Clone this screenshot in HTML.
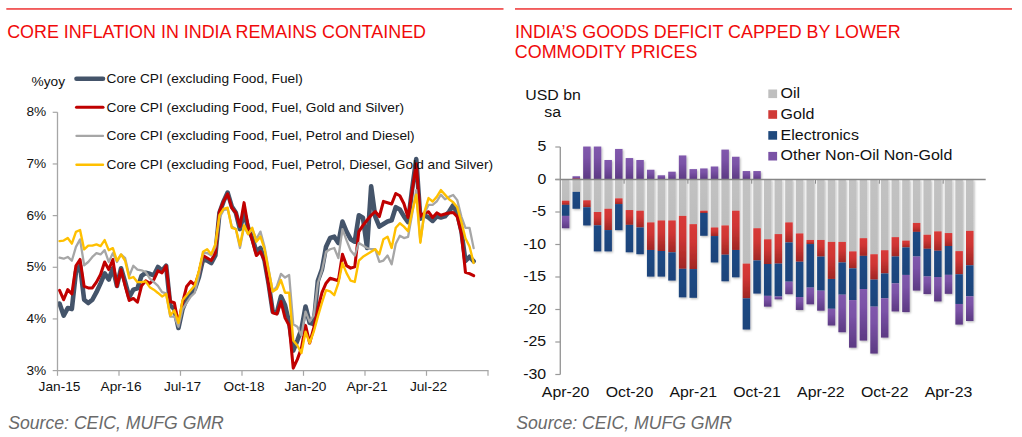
<!DOCTYPE html>
<html><head><meta charset="utf-8"><title>charts</title>
<style>
html,body{margin:0;padding:0;background:#fff;}
body{width:1022px;height:437px;overflow:hidden;position:relative;font-family:"Liberation Sans",sans-serif;}
svg{position:absolute;left:0;top:0;}
text{font-family:"Liberation Sans",sans-serif;}
</style></head><body>
<svg width="1022" height="437" viewBox="0 0 1022 437">
<defs>
<linearGradient id="gP" x1="0" y1="0" x2="0" y2="1"><stop offset="0" stop-color="#8159ad"/><stop offset="0.35" stop-color="#7a52a6"/><stop offset="1" stop-color="#5c3a83"/></linearGradient>
<linearGradient id="gR" x1="0" y1="0" x2="0" y2="1"><stop offset="0" stop-color="#d93a38"/><stop offset="0.4" stop-color="#cf3634"/><stop offset="1" stop-color="#a02724"/></linearGradient>
<linearGradient id="gN" x1="0" y1="0" x2="0" y2="1"><stop offset="0" stop-color="#1f4a85"/><stop offset="1" stop-color="#1c437a"/></linearGradient>
<linearGradient id="gG" x1="0" y1="0" x2="0" y2="1"><stop offset="0" stop-color="#c2c2c2"/><stop offset="1" stop-color="#bdbdbd"/></linearGradient>
<filter id="sh" x="-2%" y="-2%" width="104%" height="106%"><feDropShadow dx="0.9" dy="1.1" stdDeviation="0.95" flood-color="#000" flood-opacity="0.3"/></filter>
</defs>

<rect x="6.3" y="8.2" width="497.2" height="1.5" fill="#ee3333"/>
<rect x="515" y="8.2" width="497" height="1.5" fill="#ee3333"/>
<text x="7.2" y="37.9" font-size="17.9" fill="#f00a0a">CORE INFLATION IN INDIA REMAINS CONTAINED</text>
<text x="515" y="37.7" font-size="17.9" fill="#f00a0a">INDIA’S GOODS DEFICIT CAPPED BY LOWER</text>
<text x="514.8" y="57.6" font-size="17.9" fill="#f00a0a">COMMODITY PRICES</text>
<text x="8.2" y="428.6" font-size="17.65" font-style="italic" fill="#6a6a6a">Source: CEIC, MUFG GMR</text>
<text x="516.3" y="428.6" font-size="17.65" font-style="italic" fill="#6a6a6a">Source: CEIC, MUFG GMR</text>
<path d="M59.55,303.51 L63.65,315.59 L67.75,308.04 L71.85,309.05 L75.95,272.05 L80.05,265.75 L84.15,299.73 L88.25,303.01 L92.35,299.73 L96.45,292.18 L100.55,283.37 L104.65,273.31 L108.75,279.60 L112.85,268.27 L116.95,285.89 L121.05,268.27 L125.15,282.12 L129.25,297.22 L133.35,289.67 L137.45,288.41 L141.55,275.82 L145.65,272.80 L149.75,273.81 L153.85,275.32 L157.95,267.01 L162.05,270.79 L166.15,265.75 L170.25,305.34 L174.35,309.12 L178.45,327.99 L182.55,309.12 L186.65,299.05 L190.75,292.75 L194.85,288.98 L198.95,276.90 L203.05,259.29 L207.15,260.54 L211.25,263.06 L215.35,255.51 L219.45,212.72 L223.55,201.39 L227.65,192.58 L231.75,206.43 L235.85,212.72 L239.95,229.08 L244.05,212.72 L248.15,227.82 L252.25,237.89 L256.35,251.73 L260.45,247.96 L264.55,260.54 L268.65,283.88 L272.75,311.56 L276.85,312.82 L280.95,296.46 L285.05,305.27 L289.15,322.89 L293.25,350.58 L297.35,340.51 L301.45,329.18 L305.55,306.53 L309.65,322.89 L313.75,324.15 L317.85,280.71 L321.95,269.39 L326.05,246.73 L330.15,237.92 L334.25,236.67 L338.35,242.96 L342.45,221.56 L346.55,231.63 L350.65,239.18 L354.75,241.70 L358.85,215.27 L362.95,217.79 L367.05,247.99 L371.15,186.33 L375.25,216.53 L379.35,226.60 L383.45,224.08 L387.55,221.56 L391.65,220.31 L395.75,207.21 L399.85,209.50 L403.95,216.36 L408.05,222.08 L412.15,188.90 L416.25,159.15 L420.35,218.65 L424.45,215.22 L428.55,217.51 L432.65,220.94 L436.75,216.36 L440.85,217.51 L444.95,216.36 L449.05,211.78 L453.15,205.30 L457.25,213.53 L461.35,231.04 L465.45,260.90 L469.55,256.78 L473.65,261.31" fill="none" stroke="#44546a" stroke-width="4.6" stroke-linejoin="round" stroke-linecap="round"/>
<path d="M59.55,290.42 L63.65,299.73 L67.75,289.67 L71.85,293.95 L75.95,265.75 L80.05,259.46 L84.15,286.39 L88.25,287.90 L92.35,287.90 L96.45,282.12 L100.55,274.56 L104.65,261.98 L108.75,269.53 L112.85,259.46 L116.95,286.39 L121.05,269.53 L125.15,285.89 L129.25,300.49 L133.35,298.48 L137.45,302.25 L141.55,285.89 L145.65,280.86 L149.75,283.37 L153.85,279.60 L157.95,270.79 L162.05,272.80 L166.15,265.75 L170.25,301.56 L174.35,302.82 L178.45,324.22 L182.55,302.82 L186.65,286.46 L190.75,281.43 L194.85,285.20 L198.95,273.13 L203.05,255.51 L207.15,258.03 L211.25,260.54 L215.35,252.99 L219.45,211.46 L223.55,201.39 L227.65,193.84 L231.75,207.69 L235.85,212.72 L239.95,226.56 L244.05,202.65 L248.15,226.56 L252.25,240.41 L256.35,255.51 L260.45,251.73 L264.55,260.54 L268.65,285.14 L272.75,312.82 L276.85,314.08 L280.95,301.50 L285.05,317.86 L289.15,325.41 L293.25,368.20 L297.35,359.39 L301.45,348.06 L305.55,325.41 L309.65,343.03 L313.75,327.92 L317.85,309.05 L321.95,292.69 L326.05,283.23 L330.15,278.20 L334.25,279.46 L338.35,280.71 L342.45,254.29 L346.55,265.61 L350.65,268.13 L354.75,266.87 L358.85,231.63 L362.95,225.34 L367.05,220.31 L371.15,215.27 L375.25,211.50 L379.35,216.53 L383.45,201.43 L387.55,202.69 L391.65,203.95 L395.75,193.48 L399.85,195.77 L403.95,203.78 L408.05,217.51 L412.15,191.19 L416.25,163.73 L420.35,216.36 L424.45,212.93 L428.55,211.78 L432.65,217.51 L436.75,212.93 L440.85,215.22 L444.95,214.07 L449.05,212.93 L453.15,212.50 L457.25,216.62 L461.35,233.10 L465.45,272.22 L469.55,273.67 L473.65,275.72" fill="none" stroke="#c00000" stroke-width="3.05" stroke-linejoin="round" stroke-linecap="round"/>
<path d="M59.55,257.70 L63.65,258.71 L67.75,256.95 L71.85,260.72 L75.95,246.88 L80.05,239.33 L84.15,265.25 L88.25,261.98 L92.35,256.95 L96.45,253.17 L100.55,254.43 L104.65,250.15 L108.75,261.98 L112.85,253.17 L116.95,261.98 L121.05,254.43 L125.15,258.20 L129.25,275.82 L133.35,265.75 L137.45,269.53 L141.55,270.29 L145.65,272.05 L149.75,278.34 L153.85,282.12 L157.95,285.89 L162.05,292.18 L166.15,293.44 L170.25,316.67 L174.35,316.67 L178.45,326.73 L182.55,309.12 L186.65,302.82 L190.75,296.53 L194.85,292.75 L198.95,275.14 L203.05,252.99 L207.15,252.99 L211.25,255.51 L215.35,246.70 L219.45,217.75 L223.55,210.20 L227.65,208.95 L231.75,226.56 L235.85,229.08 L239.95,247.96 L244.05,226.56 L248.15,234.12 L252.25,229.08 L256.35,239.15 L260.45,231.60 L264.55,246.70 L268.65,269.35 L272.75,291.43 L276.85,286.39 L280.95,273.81 L285.05,277.58 L289.15,275.07 L293.25,324.15 L297.35,326.67 L301.45,335.48 L305.55,311.56 L309.65,321.63 L313.75,315.34 L317.85,283.23 L321.95,270.65 L326.05,251.77 L330.15,249.25 L334.25,247.99 L338.35,258.06 L342.45,229.12 L346.55,240.44 L350.65,250.51 L354.75,255.54 L358.85,242.96 L362.95,245.48 L367.05,247.99 L371.15,249.25 L375.25,249.25 L379.35,261.84 L383.45,260.58 L387.55,255.54 L391.65,264.35 L395.75,243.82 L399.85,235.81 L403.95,238.10 L408.05,236.96 L412.15,214.07 L416.25,190.05 L420.35,241.53 L424.45,212.93 L428.55,204.92 L432.65,204.92 L436.75,201.49 L440.85,194.62 L444.95,199.20 L449.05,196.91 L453.15,195.00 L457.25,200.15 L461.35,216.62 L465.45,227.95 L469.55,227.95 L473.65,248.13" fill="none" stroke="#a6a6a6" stroke-width="2.3" stroke-linejoin="round" stroke-linecap="round"/>
<path d="M59.55,241.09 L63.65,240.58 L67.75,238.07 L71.85,243.61 L75.95,231.78 L80.05,230.01 L84.15,249.39 L88.25,245.62 L92.35,245.62 L96.45,244.36 L100.55,246.12 L104.65,240.08 L108.75,250.15 L112.85,248.14 L116.95,260.72 L121.05,254.43 L125.15,260.72 L129.25,278.34 L133.35,277.08 L137.45,282.12 L141.55,282.12 L145.65,281.36 L149.75,287.15 L153.85,289.67 L157.95,292.94 L162.05,296.46 L166.15,293.95 L170.25,315.41 L174.35,310.37 L178.45,322.96 L182.55,300.31 L186.65,295.27 L190.75,290.24 L194.85,285.20 L198.95,270.61 L203.05,251.73 L207.15,249.22 L211.25,254.25 L215.35,244.18 L219.45,215.24 L223.55,208.95 L227.65,207.69 L231.75,227.82 L235.85,229.08 L239.95,245.44 L244.05,225.31 L248.15,234.12 L252.25,227.82 L256.35,241.67 L260.45,236.63 L264.55,249.22 L268.65,270.61 L272.75,291.43 L276.85,288.91 L280.95,280.10 L285.05,292.69 L289.15,292.69 L293.25,340.51 L297.35,345.54 L301.45,353.09 L305.55,331.70 L309.65,343.03 L313.75,331.70 L317.85,316.60 L321.95,302.75 L326.05,290.17 L330.15,291.43 L334.25,295.20 L338.35,283.23 L342.45,263.09 L346.55,273.16 L350.65,280.71 L354.75,281.97 L358.85,260.58 L362.95,256.80 L367.05,254.29 L371.15,251.77 L375.25,249.25 L379.35,254.29 L383.45,239.18 L387.55,236.67 L391.65,247.99 L395.75,227.80 L399.85,223.23 L403.95,226.66 L408.05,231.24 L412.15,211.78 L416.25,194.62 L420.35,242.68 L424.45,211.78 L428.55,198.05 L432.65,201.49 L436.75,196.91 L440.85,190.05 L444.95,194.62 L449.05,199.20 L453.15,202.21 L457.25,207.36 L461.35,221.77 L465.45,238.25 L469.55,246.48 L473.65,262.96" fill="none" stroke="#ffc000" stroke-width="2.4" stroke-linejoin="round" stroke-linecap="round"/>
<path d="M57.5,112.3 V370.6 H488.5" fill="none" stroke="#a6a6a6" stroke-width="1.3"/>
<path d="M52.7,370.60 H57.5" stroke="#a6a6a6" stroke-width="1.2"/>
<text transform="translate(46.20,374.50) scale(1.054,1)" font-size="13.0" text-anchor="end" fill="#111">3%</text>
<path d="M52.7,318.94 H57.5" stroke="#a6a6a6" stroke-width="1.2"/>
<text transform="translate(46.20,322.84) scale(1.054,1)" font-size="13.0" text-anchor="end" fill="#111">4%</text>
<path d="M52.7,267.28 H57.5" stroke="#a6a6a6" stroke-width="1.2"/>
<text transform="translate(46.20,271.18) scale(1.054,1)" font-size="13.0" text-anchor="end" fill="#111">5%</text>
<path d="M52.7,215.62 H57.5" stroke="#a6a6a6" stroke-width="1.2"/>
<text transform="translate(46.20,219.52) scale(1.054,1)" font-size="13.0" text-anchor="end" fill="#111">6%</text>
<path d="M52.7,163.96 H57.5" stroke="#a6a6a6" stroke-width="1.2"/>
<text transform="translate(46.20,167.86) scale(1.054,1)" font-size="13.0" text-anchor="end" fill="#111">7%</text>
<path d="M52.7,112.30 H57.5" stroke="#a6a6a6" stroke-width="1.2"/>
<text transform="translate(46.20,116.20) scale(1.054,1)" font-size="13.0" text-anchor="end" fill="#111">8%</text>
<path d="M57.50,370.6 V375.8" stroke="#a6a6a6" stroke-width="1.2"/>
<text transform="translate(59.55,390.90) scale(1.054,1)" font-size="13.0" text-anchor="middle" fill="#111">Jan-15</text>
<path d="M119.00,370.6 V375.8" stroke="#a6a6a6" stroke-width="1.2"/>
<text transform="translate(121.05,390.90) scale(1.054,1)" font-size="13.0" text-anchor="middle" fill="#111">Apr-16</text>
<path d="M180.50,370.6 V375.8" stroke="#a6a6a6" stroke-width="1.2"/>
<text transform="translate(182.55,390.90) scale(1.054,1)" font-size="13.0" text-anchor="middle" fill="#111">Jul-17</text>
<path d="M242.00,370.6 V375.8" stroke="#a6a6a6" stroke-width="1.2"/>
<text transform="translate(244.05,390.90) scale(1.054,1)" font-size="13.0" text-anchor="middle" fill="#111">Oct-18</text>
<path d="M303.50,370.6 V375.8" stroke="#a6a6a6" stroke-width="1.2"/>
<text transform="translate(305.55,390.90) scale(1.054,1)" font-size="13.0" text-anchor="middle" fill="#111">Jan-20</text>
<path d="M365.00,370.6 V375.8" stroke="#a6a6a6" stroke-width="1.2"/>
<text transform="translate(367.05,390.90) scale(1.054,1)" font-size="13.0" text-anchor="middle" fill="#111">Apr-21</text>
<path d="M426.50,370.6 V375.8" stroke="#a6a6a6" stroke-width="1.2"/>
<text transform="translate(428.55,390.90) scale(1.054,1)" font-size="13.0" text-anchor="middle" fill="#111">Jul-22</text>
<path d="M488.00,370.6 V375.8" stroke="#a6a6a6" stroke-width="1.2"/>
<text transform="translate(31.50,85.50) scale(1.054,1)" font-size="13.0" text-anchor="start" fill="#111">%yoy</text>
<path d="M76.5,78.7 H103" stroke="#44546a" stroke-width="4.6" stroke-linecap="round"/>
<text transform="translate(106.50,83.20) scale(1.054,1)" font-size="13.0" text-anchor="start" fill="#111">Core CPI (excluding Food, Fuel)</text>
<path d="M76.5,107.2 H103" stroke="#c00000" stroke-width="3.05" stroke-linecap="round"/>
<text transform="translate(106.50,111.70) scale(1.054,1)" font-size="13.0" text-anchor="start" fill="#111">Core CPI (excluding Food, Fuel, Gold and Silver)</text>
<path d="M76.5,135.9 H103" stroke="#a6a6a6" stroke-width="2.3" stroke-linecap="round"/>
<text transform="translate(106.50,140.40) scale(1.054,1)" font-size="13.0" text-anchor="start" fill="#111">Core CPI (excluding Food, Fuel, Petrol and Diesel)</text>
<path d="M76.5,164.7 H103" stroke="#ffc000" stroke-width="2.4" stroke-linecap="round"/>
<text transform="translate(106.50,169.20) scale(1.054,1)" font-size="13.0" text-anchor="start" fill="#111">Core CPI (excluding Food, Fuel, Petrol, Diesel, Gold and Silver)</text>
<g filter="url(#sh)">
<rect x="561.87" y="179.50" width="7.5" height="21.19" fill="url(#gG)"/>
<rect x="561.87" y="200.69" width="7.5" height="4.16" fill="url(#gR)"/>
<rect x="561.87" y="204.85" width="7.5" height="11.05" fill="url(#gN)"/>
<rect x="561.87" y="215.90" width="7.5" height="12.35" fill="url(#gP)"/>
<rect x="572.50" y="176.25" width="7.5" height="3.25" fill="url(#gP)"/>
<rect x="572.50" y="179.50" width="7.5" height="12.35" fill="url(#gG)"/>
<rect x="572.50" y="191.85" width="7.5" height="16.90" fill="url(#gN)"/>
<rect x="583.14" y="146.55" width="7.5" height="32.95" fill="url(#gP)"/>
<rect x="583.14" y="179.50" width="7.5" height="20.80" fill="url(#gG)"/>
<rect x="583.14" y="200.30" width="7.5" height="6.95" fill="url(#gR)"/>
<rect x="583.14" y="207.25" width="7.5" height="18.20" fill="url(#gN)"/>
<rect x="593.77" y="146.55" width="7.5" height="32.95" fill="url(#gP)"/>
<rect x="593.77" y="179.50" width="7.5" height="32.50" fill="url(#gG)"/>
<rect x="593.77" y="212.00" width="7.5" height="13.32" fill="url(#gR)"/>
<rect x="593.77" y="225.32" width="7.5" height="26.07" fill="url(#gN)"/>
<rect x="604.41" y="160.00" width="7.5" height="19.50" fill="url(#gP)"/>
<rect x="604.41" y="179.50" width="7.5" height="29.25" fill="url(#gG)"/>
<rect x="604.41" y="208.75" width="7.5" height="21.32" fill="url(#gR)"/>
<rect x="604.41" y="230.07" width="7.5" height="21.32" fill="url(#gN)"/>
<rect x="615.04" y="148.95" width="7.5" height="30.55" fill="url(#gP)"/>
<rect x="615.04" y="179.50" width="7.5" height="18.85" fill="url(#gG)"/>
<rect x="615.04" y="198.35" width="7.5" height="5.72" fill="url(#gR)"/>
<rect x="615.04" y="204.07" width="7.5" height="26.13" fill="url(#gN)"/>
<rect x="625.68" y="158.05" width="7.5" height="21.45" fill="url(#gP)"/>
<rect x="625.68" y="179.50" width="7.5" height="30.55" fill="url(#gG)"/>
<rect x="625.68" y="210.05" width="7.5" height="14.82" fill="url(#gR)"/>
<rect x="625.68" y="224.87" width="7.5" height="27.43" fill="url(#gN)"/>
<rect x="636.31" y="160.00" width="7.5" height="19.50" fill="url(#gP)"/>
<rect x="636.31" y="179.50" width="7.5" height="31.20" fill="url(#gG)"/>
<rect x="636.31" y="210.70" width="7.5" height="16.77" fill="url(#gR)"/>
<rect x="636.31" y="227.47" width="7.5" height="26.78" fill="url(#gN)"/>
<rect x="646.95" y="169.75" width="7.5" height="9.75" fill="url(#gP)"/>
<rect x="646.95" y="179.50" width="7.5" height="42.90" fill="url(#gG)"/>
<rect x="646.95" y="222.40" width="7.5" height="27.56" fill="url(#gR)"/>
<rect x="646.95" y="249.96" width="7.5" height="26.65" fill="url(#gN)"/>
<rect x="657.58" y="175.28" width="7.5" height="4.23" fill="url(#gP)"/>
<rect x="657.58" y="179.50" width="7.5" height="40.95" fill="url(#gG)"/>
<rect x="657.58" y="220.45" width="7.5" height="30.55" fill="url(#gR)"/>
<rect x="657.58" y="251.00" width="7.5" height="25.61" fill="url(#gN)"/>
<rect x="668.22" y="171.70" width="7.5" height="7.80" fill="url(#gP)"/>
<rect x="668.22" y="179.50" width="7.5" height="40.95" fill="url(#gG)"/>
<rect x="668.22" y="220.45" width="7.5" height="31.85" fill="url(#gR)"/>
<rect x="668.22" y="252.30" width="7.5" height="28.28" fill="url(#gN)"/>
<rect x="678.85" y="155.45" width="7.5" height="24.05" fill="url(#gP)"/>
<rect x="678.85" y="179.50" width="7.5" height="36.40" fill="url(#gG)"/>
<rect x="678.85" y="215.90" width="7.5" height="52.91" fill="url(#gR)"/>
<rect x="678.85" y="268.81" width="7.5" height="28.53" fill="url(#gN)"/>
<rect x="689.49" y="169.10" width="7.5" height="10.40" fill="url(#gP)"/>
<rect x="689.49" y="179.50" width="7.5" height="44.66" fill="url(#gG)"/>
<rect x="689.49" y="224.16" width="7.5" height="44.91" fill="url(#gR)"/>
<rect x="689.49" y="269.07" width="7.5" height="28.73" fill="url(#gN)"/>
<rect x="700.12" y="168.45" width="7.5" height="11.05" fill="url(#gP)"/>
<rect x="700.12" y="179.50" width="7.5" height="31.20" fill="url(#gG)"/>
<rect x="700.12" y="210.70" width="7.5" height="2.28" fill="url(#gR)"/>
<rect x="700.12" y="212.97" width="7.5" height="22.81" fill="url(#gN)"/>
<rect x="710.76" y="166.50" width="7.5" height="13.00" fill="url(#gP)"/>
<rect x="710.76" y="179.50" width="7.5" height="47.97" fill="url(#gG)"/>
<rect x="710.76" y="227.47" width="7.5" height="8.58" fill="url(#gR)"/>
<rect x="710.76" y="236.05" width="7.5" height="26.39" fill="url(#gN)"/>
<rect x="721.39" y="149.60" width="7.5" height="29.90" fill="url(#gP)"/>
<rect x="721.39" y="179.50" width="7.5" height="45.95" fill="url(#gG)"/>
<rect x="721.39" y="225.45" width="7.5" height="29.25" fill="url(#gR)"/>
<rect x="721.39" y="254.70" width="7.5" height="26.59" fill="url(#gN)"/>
<rect x="732.03" y="156.75" width="7.5" height="22.75" fill="url(#gP)"/>
<rect x="732.03" y="179.50" width="7.5" height="31.20" fill="url(#gG)"/>
<rect x="732.03" y="210.70" width="7.5" height="39.26" fill="url(#gR)"/>
<rect x="732.03" y="249.96" width="7.5" height="27.37" fill="url(#gN)"/>
<rect x="742.66" y="171.05" width="7.5" height="8.45" fill="url(#gP)"/>
<rect x="742.66" y="179.50" width="7.5" height="84.11" fill="url(#gG)"/>
<rect x="742.66" y="263.61" width="7.5" height="34.71" fill="url(#gR)"/>
<rect x="742.66" y="298.32" width="7.5" height="31.20" fill="url(#gN)"/>
<rect x="753.30" y="171.05" width="7.5" height="8.45" fill="url(#gP)"/>
<rect x="753.30" y="179.50" width="7.5" height="48.75" fill="url(#gG)"/>
<rect x="753.30" y="228.25" width="7.5" height="32.17" fill="url(#gR)"/>
<rect x="753.30" y="260.43" width="7.5" height="33.15" fill="url(#gN)"/>
<rect x="763.93" y="179.50" width="7.5" height="59.80" fill="url(#gG)"/>
<rect x="763.93" y="239.30" width="7.5" height="24.70" fill="url(#gR)"/>
<rect x="763.93" y="264.00" width="7.5" height="31.85" fill="url(#gN)"/>
<rect x="763.93" y="295.85" width="7.5" height="10.79" fill="url(#gP)"/>
<rect x="774.57" y="179.50" width="7.5" height="54.60" fill="url(#gG)"/>
<rect x="774.57" y="234.10" width="7.5" height="29.51" fill="url(#gR)"/>
<rect x="774.57" y="263.61" width="7.5" height="32.89" fill="url(#gN)"/>
<rect x="774.57" y="296.50" width="7.5" height="2.86" fill="url(#gP)"/>
<rect x="785.20" y="179.50" width="7.5" height="42.90" fill="url(#gG)"/>
<rect x="785.20" y="222.40" width="7.5" height="20.02" fill="url(#gR)"/>
<rect x="785.20" y="242.42" width="7.5" height="39.26" fill="url(#gN)"/>
<rect x="785.20" y="281.68" width="7.5" height="12.54" fill="url(#gP)"/>
<rect x="795.84" y="179.50" width="7.5" height="53.95" fill="url(#gG)"/>
<rect x="795.84" y="233.45" width="7.5" height="28.27" fill="url(#gR)"/>
<rect x="795.84" y="261.73" width="7.5" height="35.29" fill="url(#gN)"/>
<rect x="795.84" y="297.02" width="7.5" height="12.94" fill="url(#gP)"/>
<rect x="806.47" y="179.50" width="7.5" height="60.45" fill="url(#gG)"/>
<rect x="806.47" y="239.95" width="7.5" height="4.09" fill="url(#gR)"/>
<rect x="806.47" y="244.05" width="7.5" height="43.55" fill="url(#gN)"/>
<rect x="806.47" y="287.60" width="7.5" height="16.71" fill="url(#gP)"/>
<rect x="817.11" y="179.50" width="7.5" height="60.45" fill="url(#gG)"/>
<rect x="817.11" y="239.95" width="7.5" height="16.64" fill="url(#gR)"/>
<rect x="817.11" y="256.59" width="7.5" height="34.06" fill="url(#gN)"/>
<rect x="817.11" y="290.65" width="7.5" height="20.02" fill="url(#gP)"/>
<rect x="827.74" y="179.50" width="7.5" height="62.40" fill="url(#gG)"/>
<rect x="827.74" y="241.90" width="7.5" height="37.05" fill="url(#gR)"/>
<rect x="827.74" y="278.95" width="7.5" height="29.84" fill="url(#gN)"/>
<rect x="827.74" y="308.78" width="7.5" height="16.71" fill="url(#gP)"/>
<rect x="838.38" y="179.50" width="7.5" height="62.40" fill="url(#gG)"/>
<rect x="838.38" y="241.90" width="7.5" height="20.54" fill="url(#gR)"/>
<rect x="838.38" y="262.44" width="7.5" height="32.24" fill="url(#gN)"/>
<rect x="838.38" y="294.68" width="7.5" height="37.57" fill="url(#gP)"/>
<rect x="849.01" y="179.50" width="7.5" height="71.89" fill="url(#gG)"/>
<rect x="849.01" y="251.39" width="7.5" height="16.96" fill="url(#gR)"/>
<rect x="849.01" y="268.36" width="7.5" height="31.72" fill="url(#gN)"/>
<rect x="849.01" y="300.07" width="7.5" height="47.58" fill="url(#gP)"/>
<rect x="859.65" y="179.50" width="7.5" height="58.69" fill="url(#gG)"/>
<rect x="859.65" y="238.19" width="7.5" height="17.68" fill="url(#gR)"/>
<rect x="859.65" y="255.88" width="7.5" height="33.15" fill="url(#gN)"/>
<rect x="859.65" y="289.02" width="7.5" height="51.55" fill="url(#gP)"/>
<rect x="870.28" y="179.50" width="7.5" height="74.75" fill="url(#gG)"/>
<rect x="870.28" y="254.25" width="7.5" height="25.35" fill="url(#gR)"/>
<rect x="870.28" y="279.60" width="7.5" height="27.04" fill="url(#gN)"/>
<rect x="870.28" y="306.64" width="7.5" height="46.93" fill="url(#gP)"/>
<rect x="880.92" y="179.50" width="7.5" height="70.72" fill="url(#gG)"/>
<rect x="880.92" y="250.22" width="7.5" height="23.20" fill="url(#gR)"/>
<rect x="880.92" y="273.43" width="7.5" height="24.83" fill="url(#gN)"/>
<rect x="880.92" y="298.25" width="7.5" height="39.33" fill="url(#gP)"/>
<rect x="891.55" y="179.50" width="7.5" height="57.65" fill="url(#gG)"/>
<rect x="891.55" y="237.16" width="7.5" height="19.31" fill="url(#gR)"/>
<rect x="891.55" y="256.46" width="7.5" height="26.91" fill="url(#gN)"/>
<rect x="891.55" y="283.37" width="7.5" height="28.08" fill="url(#gP)"/>
<rect x="902.19" y="179.50" width="7.5" height="61.10" fill="url(#gG)"/>
<rect x="902.19" y="240.60" width="7.5" height="6.82" fill="url(#gR)"/>
<rect x="902.19" y="247.43" width="7.5" height="27.50" fill="url(#gN)"/>
<rect x="902.19" y="274.92" width="7.5" height="37.18" fill="url(#gP)"/>
<rect x="912.82" y="179.50" width="7.5" height="43.42" fill="url(#gG)"/>
<rect x="912.82" y="222.92" width="7.5" height="8.97" fill="url(#gR)"/>
<rect x="912.82" y="231.89" width="7.5" height="24.63" fill="url(#gN)"/>
<rect x="912.82" y="256.52" width="7.5" height="34.06" fill="url(#gP)"/>
<rect x="923.46" y="179.50" width="7.5" height="55.25" fill="url(#gG)"/>
<rect x="923.46" y="234.75" width="7.5" height="14.04" fill="url(#gR)"/>
<rect x="923.46" y="248.79" width="7.5" height="27.69" fill="url(#gN)"/>
<rect x="923.46" y="276.48" width="7.5" height="17.55" fill="url(#gP)"/>
<rect x="934.09" y="179.50" width="7.5" height="51.87" fill="url(#gG)"/>
<rect x="934.09" y="231.37" width="7.5" height="19.37" fill="url(#gR)"/>
<rect x="934.09" y="250.74" width="7.5" height="26.26" fill="url(#gN)"/>
<rect x="934.09" y="277.00" width="7.5" height="24.44" fill="url(#gP)"/>
<rect x="944.73" y="179.50" width="7.5" height="53.56" fill="url(#gG)"/>
<rect x="944.73" y="233.06" width="7.5" height="12.94" fill="url(#gR)"/>
<rect x="944.73" y="246.00" width="7.5" height="28.86" fill="url(#gN)"/>
<rect x="944.73" y="274.86" width="7.5" height="18.98" fill="url(#gP)"/>
<rect x="955.36" y="179.50" width="7.5" height="71.63" fill="url(#gG)"/>
<rect x="955.36" y="251.13" width="7.5" height="23.14" fill="url(#gR)"/>
<rect x="955.36" y="274.27" width="7.5" height="29.70" fill="url(#gN)"/>
<rect x="955.36" y="303.98" width="7.5" height="20.61" fill="url(#gP)"/>
<rect x="966.00" y="179.50" width="7.5" height="51.35" fill="url(#gG)"/>
<rect x="966.00" y="230.85" width="7.5" height="34.45" fill="url(#gR)"/>
<rect x="966.00" y="265.30" width="7.5" height="31.00" fill="url(#gN)"/>
<rect x="966.00" y="296.31" width="7.5" height="24.70" fill="url(#gP)"/>
<rect x="572.50" y="178.53" width="7.5" height="0.97" fill="#c9403a"/>
</g>
<path d="M560.3,147.00 V374.50" stroke="#9a9a9a" stroke-width="1.4" fill="none"/>
<path d="M555.3,179.5 H985.7" stroke="#868686" stroke-width="1.3" fill="none"/>
<path d="M555.3,147.00 H560.3" stroke="#9a9a9a" stroke-width="1.2"/>
<text transform="translate(546.20,151.30) scale(1.08,1)" font-size="14.7" text-anchor="end" fill="#111">5</text>
<path d="M555.3,179.50 H560.3" stroke="#9a9a9a" stroke-width="1.2"/>
<text transform="translate(546.20,183.80) scale(1.08,1)" font-size="14.7" text-anchor="end" fill="#111">0</text>
<path d="M555.3,212.00 H560.3" stroke="#9a9a9a" stroke-width="1.2"/>
<text transform="translate(546.20,216.30) scale(1.08,1)" font-size="14.7" text-anchor="end" fill="#111">-5</text>
<path d="M555.3,244.50 H560.3" stroke="#9a9a9a" stroke-width="1.2"/>
<text transform="translate(546.20,248.80) scale(1.08,1)" font-size="14.7" text-anchor="end" fill="#111">-10</text>
<path d="M555.3,277.00 H560.3" stroke="#9a9a9a" stroke-width="1.2"/>
<text transform="translate(546.20,281.30) scale(1.08,1)" font-size="14.7" text-anchor="end" fill="#111">-15</text>
<path d="M555.3,309.50 H560.3" stroke="#9a9a9a" stroke-width="1.2"/>
<text transform="translate(546.20,313.80) scale(1.08,1)" font-size="14.7" text-anchor="end" fill="#111">-20</text>
<path d="M555.3,342.00 H560.3" stroke="#9a9a9a" stroke-width="1.2"/>
<text transform="translate(546.20,346.30) scale(1.08,1)" font-size="14.7" text-anchor="end" fill="#111">-25</text>
<path d="M555.3,374.50 H560.3" stroke="#9a9a9a" stroke-width="1.2"/>
<text transform="translate(546.20,378.80) scale(1.08,1)" font-size="14.7" text-anchor="end" fill="#111">-30</text>
<text transform="translate(565.62,396.70) scale(1.08,1)" font-size="14.7" text-anchor="middle" fill="#111">Apr-20</text>
<path d="M624.11,179.5 V183.7" stroke="#868686" stroke-width="1"/>
<text transform="translate(629.43,396.70) scale(1.08,1)" font-size="14.7" text-anchor="middle" fill="#111">Oct-20</text>
<path d="M687.92,179.5 V183.7" stroke="#868686" stroke-width="1"/>
<text transform="translate(693.24,396.70) scale(1.08,1)" font-size="14.7" text-anchor="middle" fill="#111">Apr-21</text>
<path d="M751.73,179.5 V183.7" stroke="#868686" stroke-width="1"/>
<text transform="translate(757.05,396.70) scale(1.08,1)" font-size="14.7" text-anchor="middle" fill="#111">Oct-21</text>
<path d="M815.54,179.5 V183.7" stroke="#868686" stroke-width="1"/>
<text transform="translate(820.86,396.70) scale(1.08,1)" font-size="14.7" text-anchor="middle" fill="#111">Apr-22</text>
<path d="M879.35,179.5 V183.7" stroke="#868686" stroke-width="1"/>
<text transform="translate(884.67,396.70) scale(1.08,1)" font-size="14.7" text-anchor="middle" fill="#111">Oct-22</text>
<path d="M943.16,179.5 V183.7" stroke="#868686" stroke-width="1"/>
<text transform="translate(948.48,396.70) scale(1.08,1)" font-size="14.7" text-anchor="middle" fill="#111">Apr-23</text>
<text transform="translate(553.00,100.00) scale(1.08,1)" font-size="14.7" text-anchor="middle" fill="#111">USD bn</text>
<text transform="translate(552.70,117.20) scale(1.08,1)" font-size="14.7" text-anchor="middle" fill="#111">sa</text>
<rect x="768.3" y="89.50" width="8.8" height="8.6" fill="#bfbfbf"/>
<text transform="translate(780.60,98.00) scale(1.09,1)" font-size="14.7" text-anchor="start" fill="#111">Oil</text>
<rect x="768.3" y="110.20" width="8.8" height="8.6" fill="#d03a37"/>
<text transform="translate(780.60,118.70) scale(1.09,1)" font-size="14.7" text-anchor="start" fill="#111">Gold</text>
<rect x="768.3" y="131.10" width="8.8" height="8.6" fill="#1f497d"/>
<text transform="translate(780.60,139.60) scale(1.09,1)" font-size="14.7" text-anchor="start" fill="#111">Electronics</text>
<rect x="768.3" y="151.90" width="8.8" height="8.6" fill="#7a52a6"/>
<text transform="translate(780.60,160.40) scale(1.09,1)" font-size="14.7" text-anchor="start" fill="#111">Other Non-Oil Non-Gold</text>
</svg></body></html>
